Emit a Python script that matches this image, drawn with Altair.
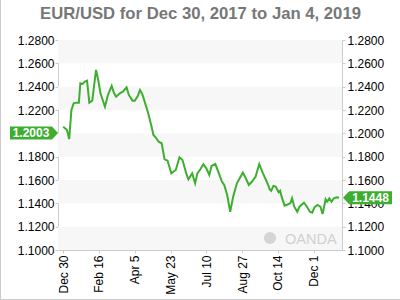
import altair as alt
import pandas as pd

# ---- data ----
day_offsets = [0, 5, 8, 11, 14, 18, 21, 23, 26, 29, 32, 35, 39, 44, 47, 50, 56, 60, 65, 68,
               71, 76, 80, 85, 88, 93, 96, 100, 103, 106, 110, 114, 118, 121, 124, 128, 132, 136, 140, 145,
               151, 156, 160, 165, 168, 173, 177, 180, 184, 188, 192, 196, 199, 204, 208, 213, 216, 220, 224, 228,
               233, 241, 244, 249, 253, 258, 263, 268, 272, 275, 277, 279, 282, 285, 289, 291, 293, 297, 302, 305,
               307, 310, 314, 317, 323, 327, 331, 334, 337, 341, 345, 348, 352, 354, 357, 360, 363, 367, 370]
rates = [1.2057, 1.2029, 1.1951, 1.2200, 1.2257, 1.2263, 1.2263, 1.2429, 1.2423, 1.2443,
         1.2451, 1.2263, 1.2280, 1.2543, 1.2457, 1.2343, 1.2228, 1.2329, 1.2406, 1.2348,
         1.2314, 1.2343, 1.2357, 1.2395, 1.2329, 1.2280, 1.2280, 1.2320, 1.2371, 1.2337,
         1.2257, 1.2172, 1.2071, 1.1986, 1.1966, 1.1928, 1.1915, 1.1777, 1.1766, 1.1657,
         1.1686, 1.1795, 1.1771, 1.1657, 1.1606, 1.1657, 1.1572, 1.1657, 1.1692, 1.1735,
         1.1700, 1.1643, 1.1720, 1.1737, 1.1671, 1.1585, 1.1557, 1.1471, 1.1328, 1.1457,
         1.1572, 1.1663, 1.1628, 1.1557, 1.1585, 1.1628, 1.1737, 1.1657, 1.1600, 1.1557,
         1.1520, 1.1508, 1.1549, 1.1543, 1.1495, 1.1508, 1.1457, 1.1380, 1.1392, 1.1405,
         1.1443, 1.1371, 1.1328, 1.1371, 1.1405, 1.1371, 1.1328, 1.1320, 1.1366, 1.1386,
         1.1371, 1.1309, 1.1435, 1.1414, 1.1443, 1.1414, 1.1443, 1.1452, 1.1448]
start_date = "2017-12-30"
x_tick_dates = [(2017, 12, 30), (2018, 2, 16), (2018, 4, 5), (2018, 5, 23),
                (2018, 7, 10), (2018, 8, 27), (2018, 10, 14), (2018, 12, 1)]
y_ticks = [1.10, 1.12, 1.14, 1.16, 1.18, 1.20, 1.22, 1.24, 1.26, 1.28]
band_lo = [1.10, 1.14, 1.18, 1.22, 1.26]
band_hi = [1.12, 1.16, 1.20, 1.24, 1.28]
first_label = [1.2003]
first_text = ["1.2003"]
last_label = [1.1448]
last_text = ["1.1448"]
title_text = ["EUR/USD for Dec 30, 2017 to Jan 4, 2019"]
watermark = ["OANDA"]

GREEN = "#3dae2f"
FONT = "Liberation Sans"
W, H = 284, 210

base = pd.Timestamp(start_date)
df = pd.DataFrame({"date": [base + pd.Timedelta(days=d) for d in day_offsets], "rate": rates})
bands = pd.DataFrame({"lo": band_lo, "hi": band_hi})
lab_first = pd.DataFrame({"v": first_label, "t": first_text})
lab_last = pd.DataFrame({"v": last_label, "t": last_text})
wm = pd.DataFrame({"t": watermark})
ttl = pd.DataFrame({"t": title_text})

yscale = alt.Scale(domain=[1.10, 1.28], nice=False, zero=False)
xscale = alt.Scale(domain=[alt.DateTime(year=2017, month=12, date=23),
                           alt.DateTime(year=2019, month=1, date=8)])

axis_common = dict(values=y_ticks, format=".4f", title=None, grid=False, domain=False,
                   tickColor="#cccccc", tickSize=3, labelFont=FONT, labelFontSize=12,
                   labelColor="#000000")

band_layer = alt.Chart(bands).mark_rect(color="#f7f7f7").encode(
    x=alt.value(0), x2=alt.value(W),
    y=alt.Y("lo:Q", scale=yscale, axis=alt.Axis(orient="right", labelPadding=2, **axis_common)),
    y2="hi:Q",
)

line_layer = alt.Chart(df).mark_line(color=GREEN, strokeWidth=2).encode(
    x=alt.X("date:T", scale=xscale,
            axis=alt.Axis(values=[alt.DateTime(year=a, month=b, date=c) for a, b, c in x_tick_dates],
                          format="%b %-d", labelAngle=-90, title=None, grid=False, domain=False,
                          tickColor="#cccccc", tickSize=3, labelPadding=2, labelFont=FONT,
                          labelFontSize=12, labelColor="#000000")),
    y=alt.Y("rate:Q", scale=yscale, axis=alt.Axis(orient="left", labelPadding=1, **axis_common)),
)

left_box = alt.Chart(lab_first).mark_point(
    shape="M-1,-0.27L0.75,-0.27L1,0L0.75,0.27L-1,0.27Z", size=2304, filled=True,
    color=GREEN, opacity=1, strokeWidth=0,
).encode(x=alt.value(-24), y=alt.Y("v:Q", scale=yscale, axis=None))
left_txt = alt.Chart(lab_first).mark_text(
    color="white", fontWeight="bold", fontSize=12, font=FONT, align="center", baseline="middle"
).encode(x=alt.value(-27), y=alt.Y("v:Q", scale=yscale, axis=None), text="t:N")

right_box = alt.Chart(lab_last).mark_point(
    shape="M-1,0L-0.75,-0.265L1,-0.265L1,0.265L-0.75,0.265Z", size=2401, filled=True,
    color=GREEN, opacity=1, strokeWidth=0,
).encode(x=alt.value(309.5), y=alt.Y("v:Q", scale=yscale, axis=None))
right_txt = alt.Chart(lab_last).mark_text(
    color="white", fontWeight="bold", fontSize=12, font=FONT, align="center", baseline="middle"
).encode(x=alt.value(312.5), y=alt.Y("v:Q", scale=yscale, axis=None), text="t:N")

wm_text = alt.Chart(wm).mark_text(
    color="#d0d0d0", fontSize=14.5, font=FONT, align="left", baseline="alphabetic"
).encode(x=alt.value(227), y=alt.value(203.5), text="t:N")
wm_logo = alt.Chart(wm).mark_point(
    shape="circle", size=150, filled=True, color="#d5d5d5", opacity=1
).encode(x=alt.value(212), y=alt.value(198))

title_layer = alt.Chart(ttl).mark_text(
    color="#777777", fontSize=16.7, fontWeight="bold", font=FONT, align="center",
    baseline="alphabetic"
).encode(x=alt.value(142.5), y=alt.value(-21.5), text="t:N")

border_left = alt.Chart(wm).mark_rule(color="#cccccc", strokeWidth=1).encode(
    x=alt.value(-57.5), y=alt.value(-40), y2=alt.value(260))
border_bottom = alt.Chart(wm).mark_rule(color="#cccccc", strokeWidth=1).encode(
    x=alt.value(-58), x2=alt.value(342), y=alt.value(259.5))

chart = alt.layer(
    band_layer, border_left, border_bottom, wm_logo, wm_text, title_layer, line_layer,
    left_box, left_txt, right_box, right_txt,
).resolve_scale(y="shared").resolve_axis(y="independent").properties(
    width=W, height=H,
    autosize=alt.AutoSizeParams(type="none"),
    padding={"left": 58, "top": 40, "right": 58, "bottom": 50},
).configure_view(stroke="#cccccc", strokeWidth=1)

chart.save("out.html", embed_options={"renderer": "svg", "actions": False})
